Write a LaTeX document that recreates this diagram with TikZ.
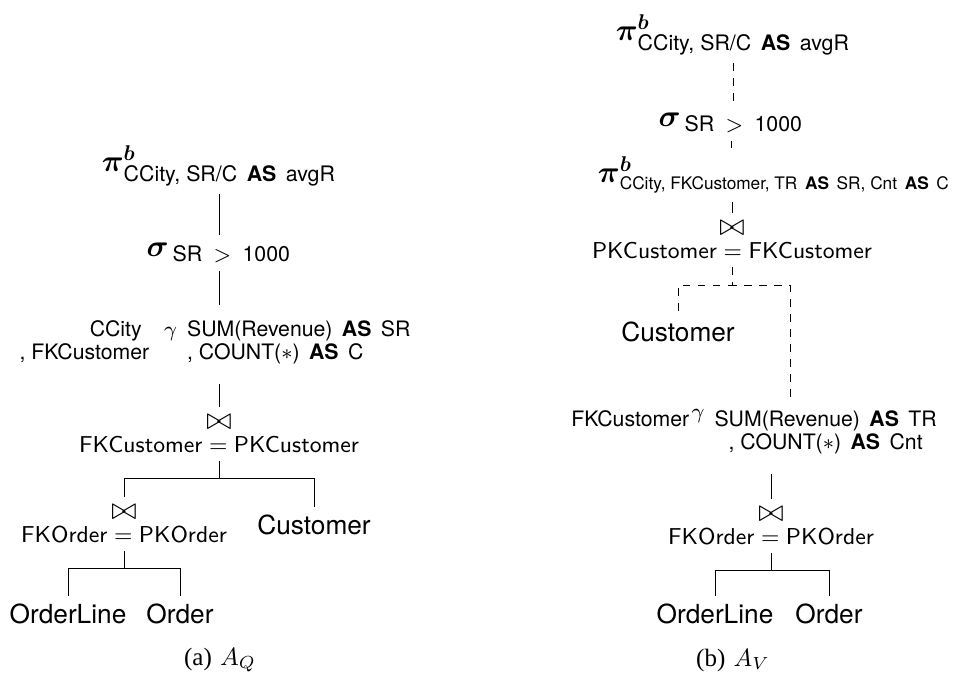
\documentclass[tikz,border=0pt]{standalone}
\usepackage{fix-cm}
\usepackage{amsmath}
\usepackage{fontspec}
\newfontfamily\hv{TeX Gyre Heros}
\newfontfamily\tms{Liberation Serif}
\newcommand{\AS}{\,\textbf{AS}\,}
\newcommand{\jointie}{{\fontsize{12.5}{10}\selectfont$\bowtie$}}
\tikzset{
  opnode/.style={inner sep=3pt, font=\fontsize{12.2}{14}\selectfont},
  joinnode/.style={inner sep=3pt, align=center, font=\fontsize{9.2}{9.4}\selectfont},
  aggnode/.style={inner sep=3pt, font=\hv\fontsize{8.5}{9.2}\selectfont},
  relnode/.style={inner sep=3pt, font=\hv\fontsize{10.5}{12}\selectfont},
  capnode/.style={inner sep=1pt, font=\fontsize{10}{12}\selectfont},
}

\begin{document}
\begin{tikzpicture}[x=0.4pt, y=-0.4pt]
    \useasboundingbox (0,0) rectangle (953,673);

    % Left plan (a)
    \node[opnode] (piA) at (219,166) {$\boldsymbol{\pi}^{\boldsymbol{b}}_{\text{\hv CCity, SR/C \AS{} avgR}}$};
    \node[opnode] (sigA) at (219,253) {$\boldsymbol{\sigma}_{\,\text{\hv SR}\mskip9mu>\mskip9mu\text{\hv 1000}}$};
    \node[aggnode] (gamA) at (215,343) {\begin{tabular}{@{}r@{\hspace{6pt}}c@{\hspace{4pt}}l@{}}
        CCity\hspace{3pt} & $\gamma$ & SUM(Revenue) \AS{} SR\\
        , FKCustomer & & , COUNT($*$) \AS{} C
      \end{tabular}};
    \node[joinnode] (joinA) at (219,434) {\jointie\\ $\textsf{FKCustomer} = \textsf{PKCustomer}$};
    \node[joinnode] (joinB) at (124,524) {\jointie\\ $\textsf{FKOrder} = \textsf{PKOrder}$};
    \node[relnode] (custA) at (314,525) {Customer};
    \node[relnode] (olA) at (68,614) {OrderLine};
    \node[relnode] (ordA) at (180,614) {Order};
    \node[capnode] (capA) at (220,660) {{\tms (a)} $A_Q$};

    % Edges of (a)
    \draw (piA.south) -- (sigA.north);
    \draw (sigA.south) -- ([yshift=3pt]sigA.south |- gamA.north);
    \draw ([yshift=-4pt]joinA.north |- gamA.south) -- (joinA.north);
    \draw (joinA.south) -- ++(0,17) -| (joinB.north);
    \draw (joinA.south) -- ++(0,17) -| (custA.north);
    \draw (joinB.south) -- ++(0,17) -| (olA.north);
    \draw (joinB.south) -- ++(0,17) -| (ordA.north);

    % Right plan (b)
    \node[opnode] (piV) at (733,35) {$\boldsymbol{\pi}^{\boldsymbol{b}}_{\text{\hv CCity, SR/C \AS{} avgR}}$};
    \node[opnode] (sigV) at (731,123) {$\boldsymbol{\sigma}_{\,\text{\hv SR}\mskip9mu>\mskip9mu\text{\hv 1000}}$};
    \node[opnode] (piV2) at (774,175) {$\boldsymbol{\pi}^{\boldsymbol{b}}_{\text{\hv\fontsize{6.9}{8}\selectfont CCity, FKCustomer, TR \AS{} SR, Cnt \AS{} C}}$};
    \node[joinnode] (joinC) at (732,240) {\jointie\\ $\textsf{PKCustomer} = \textsf{FKCustomer}$};
    \node[relnode] (custV) at (678,332) {Customer};
    \node[aggnode] (gamV) at (754,433) {\begin{tabular}{@{}r@{\hspace{1pt}}c@{\hspace{4pt}}c@{}}
        FKCustomer & \raisebox{3pt}{$\gamma$} & SUM(Revenue) \AS{} TR\\
        & & , COUNT($*$) \AS{} Cnt
      \end{tabular}};
    \coordinate (gamVtop) at (790,403);
    \node[joinnode] (joinO) at (771,526) {\jointie\\ $\textsf{FKOrder} = \textsf{PKOrder}$};
    \node[relnode] (olV) at (715,614) {OrderLine};
    \node[relnode] (ordV) at (829,614) {Order};
    \node[capnode] (capV) at (733,660) {{\tms (b)} $A_V$};

    % Edges of (b), dashed where the view is not stored
    \draw[dashed] (piV.south) -- (piV.south |- sigV.north);
    \draw[dashed] (sigV.south) -- (sigV.south |- piV2.north);
    \draw (joinC.north |- piV2.south) -- (joinC.north);
    \draw[dashed] (joinC.south) -- ++(0,18) -| (custV.north);
    \draw[dashed] (joinC.south) -- ++(0,18) -| (gamVtop);
    \draw ([yshift=-4pt]joinO.north |- gamV.south) -- (joinO.north);
    \draw (joinO.south) -- ++(0,17) -| (olV.north);
    \draw (joinO.south) -- ++(0,17) -| (ordV.north);

\end{tikzpicture}
\end{document}
